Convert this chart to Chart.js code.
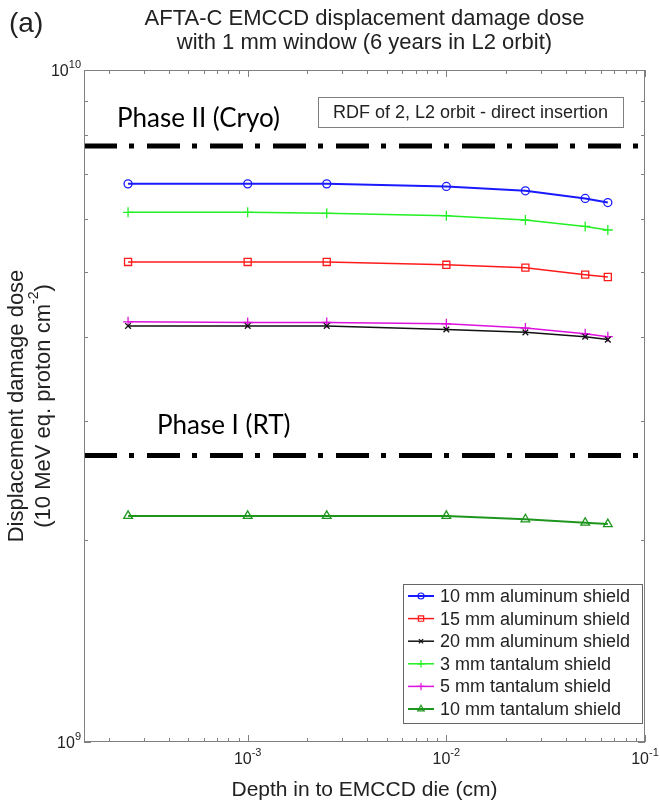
<!DOCTYPE html>
<html><head><meta charset="utf-8">
<script src="https://cdn.jsdelivr.net/npm/chart.js@4/dist/chart.umd.min.js"></script>
<style>html,body{margin:0;padding:0;background:#fff}#wrap{width:660px;height:802px;position:relative}</style>
</head><body><div id="wrap"><canvas id="c"></canvas></div>
<script>
// ---- data ----
const depths = [2.5e-4, 1e-3, 2.5e-3, 1e-2, 2.5e-2, 5e-2, 6.5e-2];
const al10 = [6.77e9, 6.77e9, 6.77e9, 6.71e9, 6.61e9, 6.44e9, 6.35e9];
const al15 = [5.18e9, 5.18e9, 5.18e9, 5.13e9, 5.08e9, 4.96e9, 4.92e9];
const al20 = [4.16e9, 4.16e9, 4.16e9, 4.11e9, 4.07e9, 4.01e9, 3.97e9];
const ta3  = [6.14e9, 6.14e9, 6.12e9, 6.07e9, 5.98e9, 5.85e9, 5.78e9];
const ta5  = [4.22e9, 4.21e9, 4.21e9, 4.19e9, 4.13e9, 4.05e9, 4.01e9];
const ta10 = [2.17e9, 2.17e9, 2.17e9, 2.17e9, 2.145e9, 2.12e9, 2.11e9];
const seriesLabels = ['10 mm aluminum shield','15 mm aluminum shield','20 mm aluminum shield','3 mm tantalum shield','5 mm tantalum shield','10 mm tantalum shield'];
const phaseLevels = [7.71e9, 2.67e9];
const phaseLabels = ['Phase II (Cryo)', 'Phase I (RT)'];
const xTickValues = [1e-3, 1e-2, 1e-1];
const xTickExps = ['-3', '-2', '-1'];
const yTickValues = [1e9, 1e10];
const yTickExps = ['9', '10'];
const xMin = 1.5e-4, xMax = 1e-1, yMin = 1e9, yMax = 1e10;
const titleLines = ['AFTA-C EMCCD displacement damage dose', 'with 1 mm window (6 years in L2 orbit)'];
const noteText = 'RDF of 2, L2 orbit - direct insertion';

const FONT = '"Liberation Sans", Arial, sans-serif';
const toPts = ys => depths.map((d, i) => ({x: d, y: ys[i]}));

function series(label, ys, color, style, r, bw) {
  return {label, data: toPts(ys), borderColor: color, backgroundColor: 'rgba(0,0,0,0)',
    borderWidth: bw, pointStyle: style, pointRadius: r, pointBorderWidth: 1.3,
    pointBorderColor: color, pointBackgroundColor: 'rgba(0,0,0,0)', tension: 0, isSeries: true};
}
const datasets = [
  series(seriesLabels[0], al10, '#1a1aff', 'circle', 4, 2),
  series(seriesLabels[1], al15, '#ff1a1a', 'rect', 5, 1.5),
  series(seriesLabels[2], al20, '#111111', 'crossRot', 4, 1.5),
  series(seriesLabels[3], ta3, '#22f022', 'cross', 5, 1.5),
  series(seriesLabels[4], ta5, '#dd11dd', 'cross', 5, 1.5),
  series(seriesLabels[5], ta10, '#1e961e', 'triangle', 5, 2),
];
phaseLevels.forEach((lv, i) => datasets.push({
  label: phaseLabels[i], data: [{x: xMin, y: lv}, {x: xMax, y: lv}], borderColor: '#000',
  borderWidth: 5, borderDash: [33, 12, 5, 13], pointRadius: 0, borderCapStyle: 'butt', isSeries: false
}));

function supText(ctx, base, exp, x, y, align, bs, es) {
  ctx.font = bs + 'px ' + FONT; const wb = ctx.measureText(base).width;
  ctx.font = es + 'px ' + FONT; const we = ctx.measureText(exp).width;
  const x0 = align === 'right' ? x - wb - we : align === 'center' ? x - (wb + we) / 2 : x;
  ctx.textAlign = 'left'; ctx.textBaseline = 'alphabetic';
  ctx.font = bs + 'px ' + FONT; ctx.fillText(base, x0, y);
  ctx.font = es + 'px ' + FONT; ctx.fillText(exp, x0 + wb, y - bs * 0.5);
}

const decor = {
  id: 'decor',
  afterDraw(chart) {
    const ctx = chart.ctx, a = chart.chartArea, xs = chart.scales.x, ys = chart.scales.y;
    ctx.save();
    // frame
    ctx.strokeStyle = '#808080'; ctx.lineWidth = 1;
    ctx.strokeRect(a.left + 0.5, a.top + 0.5, a.right - a.left - 1, a.bottom - a.top - 1);
    // ticks
    ctx.beginPath();
    for (let n = -4; n <= -1; n++) for (let k = 1; k <= 9; k++) {
      const v = k * Math.pow(10, n); if (v < xMin * 0.999 || v > xMax * 1.001) continue;
      const p = Math.round(xs.getPixelForValue(v)) + 0.5, L = k === 1 ? 7 : 4;
      ctx.moveTo(p, a.bottom); ctx.lineTo(p, a.bottom - L);
      ctx.moveTo(p, a.top); ctx.lineTo(p, a.top + L);
    }
    for (let k = 1; k <= 10; k++) {
      const v = k * 1e9; const p = Math.round(ys.getPixelForValue(v)) + 0.5, L = (k === 1 || k === 10) ? 7 : 4;
      ctx.moveTo(a.left, p); ctx.lineTo(a.left + L, p);
      ctx.moveTo(a.right, p); ctx.lineTo(a.right - L, p);
    }
    ctx.stroke();
    // tick labels
    ctx.fillStyle = '#222';
    xTickValues.forEach((v, i) => supText(ctx, '10', xTickExps[i], xs.getPixelForValue(v), a.bottom + 22, 'center', 16, 11));
    yTickValues.forEach((v, i) => supText(ctx, '10', yTickExps[i], a.left - 3, ys.getPixelForValue(v) + 6, 'right', 16, 11));
    // title
    ctx.textAlign = 'center'; ctx.textBaseline = 'middle'; ctx.font = '22px ' + FONT;
    const cx = (a.left + a.right) / 2;
    ctx.fillText(titleLines[0], cx, 19); ctx.fillText(titleLines[1], cx, 43);
    ctx.textAlign = 'left'; ctx.font = '28px ' + FONT; ctx.fillText('(a)', 9, 24);
    // x label
    ctx.textAlign = 'center'; ctx.font = '21px ' + FONT;
    ctx.fillText('Depth in to EMCCD die (cm)', cx, 790);
    // y label
    const cy = (a.top + a.bottom) / 2;
    ctx.save(); ctx.translate(17, cy); ctx.rotate(-Math.PI / 2);
    ctx.textAlign = 'center'; ctx.textBaseline = 'middle'; ctx.font = '22px ' + FONT;
    ctx.fillText('Displacement damage dose', 0, 0);
    ctx.restore();
    ctx.save(); ctx.translate(44, cy); ctx.rotate(-Math.PI / 2);
    ctx.font = '22px ' + FONT; const w1 = ctx.measureText('(10 MeV eq. proton cm').width;
    ctx.font = '14px ' + FONT; const w2 = ctx.measureText('-2').width;
    ctx.font = '22px ' + FONT; const w3 = ctx.measureText(')').width;
    let x0 = -(w1 + w2 + w3) / 2; ctx.textAlign = 'left'; ctx.textBaseline = 'middle';
    ctx.fillText('(10 MeV eq. proton cm', x0, 0);
    ctx.font = '14px ' + FONT; ctx.fillText('-2', x0 + w1, -10);
    ctx.font = '22px ' + FONT; ctx.fillText(')', x0 + w1 + w2, 0);
    ctx.restore();
    // phase labels
    ctx.fillStyle = '#000'; ctx.font = '26px Lato, "Open Sans", sans-serif'; ctx.textAlign = 'left'; ctx.textBaseline = 'alphabetic';
    ctx.fillText(phaseLabels[0], a.left + 33, ys.getPixelForValue(phaseLevels[0]) - 19);
    ctx.fillText(phaseLabels[1], a.left + 73, ys.getPixelForValue(phaseLevels[1]) - 21);
    // note box
    ctx.fillStyle = '#fff'; ctx.strokeStyle = '#808080';
    ctx.fillRect(a.left + 234, a.top + 27, a.right - 22 - (a.left + 234), 30);
    ctx.strokeRect(a.left + 234.5, a.top + 27.5, a.right - 22 - (a.left + 234), 30);
    ctx.fillStyle = '#222'; ctx.font = '18px ' + FONT; ctx.textAlign = 'center'; ctx.textBaseline = 'middle';
    ctx.fillText(noteText, (a.left + 234 + a.right - 22) / 2, a.top + 43);
    // legend
    const lx = 403, ly = 584, lw = a.right - 3 - lx, lh = 139;
    ctx.fillStyle = '#fff'; ctx.fillRect(lx, ly, lw, lh);
    ctx.strokeStyle = '#666'; ctx.strokeRect(lx + 0.5, ly + 0.5, lw, lh);
    const items = chart.data.datasets.filter(d => d.isSeries);
    items.forEach((d, i) => {
      const y = ly + 12 + i * 22.6;
      ctx.strokeStyle = d.borderColor; ctx.lineWidth = d.borderWidth; ctx.setLineDash([]);
      ctx.beginPath(); ctx.moveTo(408, y); ctx.lineTo(434, y); ctx.stroke();
      ctx.lineWidth = 1.2; ctx.fillStyle = 'rgba(0,0,0,0)';
      Chart.helpers.drawPoint(ctx, {pointStyle: d.pointStyle, radius: d.pointRadius * 0.75, borderWidth: 1.2, rotation: 0}, 421, y);
      ctx.fillStyle = '#222'; ctx.font = '18px ' + FONT; ctx.textAlign = 'left'; ctx.textBaseline = 'middle';
      ctx.fillText(d.label, 440, y + 1);
    });
    ctx.restore();
  }
};

new Chart(document.getElementById('c'), {
  type: 'line',
  data: {datasets},
  options: {
    responsive: true, maintainAspectRatio: false, animation: false,
    layout: {padding: {left: 84, right: 15, top: 70, bottom: 60}},
    plugins: {legend: {display: false}, tooltip: {enabled: false}},
    scales: {
      x: {type: 'logarithmic', min: xMin, max: xMax, display: false},
      y: {type: 'logarithmic', min: yMin, max: yMax, display: false}
    }
  },
  plugins: [decor]
});
</script></body></html>
